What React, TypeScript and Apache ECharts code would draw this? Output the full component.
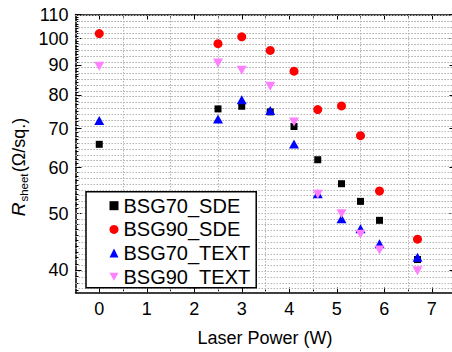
import React, { useEffect, useRef } from "react";
import * as echarts from "echarts";

// Laser power (W)
const powerW = [0, 2.5, 3, 3.6, 4.1, 4.6, 5.1, 5.5, 5.9, 6.7];
// Sheet resistance (Ω/sq.)
const bsg70SDE = [65.8, 75.7, 76.5, 74.8, 70.6, 61.9, 56.3, 52.5, 48.7, 41.7];
const bsg90SDE = [102, 98.0, 100.7, 95.4, 87.9, 75.5, 76.6, 68.1, 54.7, 45.2];
const bsg70TEXT = [72.3, 72.7, 78.5, 75.2, 65.9, 54.1, 49.0, 47.1, 44.4, 42.1];
const bsg90TEXT = [89.6, 90.8, 88.2, 82.8, 71.9, 54.0, 50.0, 46.1, 43.3, 39.9];

const seriesNames = ["BSG70_SDE", "BSG90_SDE", "BSG70_TEXT", "BSG90_TEXT"];
const xTickLabels = [0, 1, 2, 3, 4, 5, 6, 7];
const xHalfTicks = [0.5, 1.5, 2.5, 3.5, 4.5, 5.5, 6.5];
const yTickLabels = [40, 50, 60, 70, 80, 90, 100, 110];
const yMinor: number[] = [];
for (let v = 37; v <= 110; v++) yMinor.push(v);

const X_MIN = -0.5;
const X_MAX = 7.5;
const Y_MIN = 36.6;
const Y_MAX = 110;

const FONT = "'Liberation Sans', Arial, sans-serif";
const lg = (v: number) => Math.log10(v);

export default function App() {
  const ref = useRef<HTMLDivElement>(null);
  useEffect(() => {
    if (!ref.current) return;
    const chart = echarts.init(ref.current, null, { renderer: "svg" });
    const toPts = (ys: number[]) => powerW.map((x, i) => [x, lg(ys[i])]);
    const yMaj = yTickLabels.map(lg);
    const yMin = yMinor.map(lg);
    const lmin = lg(Y_MIN);
    const lmax = lg(Y_MAX);
    const axisLine = { show: true, onZero: false, lineStyle: { color: "#000", width: 1.5 } };
    const noLine = { show: false, onZero: false };
    const hiddenLabel = { show: false };
    const grid = { left: 75.5, top: 14.5, width: 380, height: 278, outerBoundsMode: "none", show: false };
    const xBase = { type: "value", min: X_MIN, max: X_MAX, splitLine: { show: false } };
    const yBase = { type: "value", min: lmin, max: lmax, splitLine: { show: false } };
    const gridStyle = { color: "#b6b6b6", type: [1.5, 1.5], width: 1, opacity: 1 };
    const rot = Math.PI / 2;
    chart.setOption({
      animation: false,
      backgroundColor: "#fff",
      textStyle: { fontFamily: FONT },
      grid,
      xAxis: [
        {
          ...xBase,
          position: "bottom",
          axisLine,
          axisTick: { show: true, inside: true, length: 5, customValues: xTickLabels, lineStyle: { color: "#000", width: 1 } },
          axisLabel: { customValues: xTickLabels, fontSize: 18, color: "#000", margin: 7, fontFamily: FONT },
        },
        {
          ...xBase,
          position: "top",
          axisLine,
          axisTick: { show: true, inside: true, length: 5, customValues: xTickLabels, lineStyle: { color: "#000", width: 1 } },
          axisLabel: hiddenLabel,
        },
        {
          ...xBase,
          position: "bottom",
          axisLine: noLine,
          axisTick: { show: true, inside: true, length: 3, customValues: xHalfTicks, lineStyle: { color: "#000", width: 1 } },
          axisLabel: hiddenLabel,
        },
        {
          ...xBase,
          position: "top",
          axisLine: noLine,
          axisTick: { show: true, inside: true, length: 3, customValues: xHalfTicks, lineStyle: { color: "#000", width: 1 } },
          axisLabel: hiddenLabel,
        },
      ],
      yAxis: [
        {
          ...yBase,
          position: "left",
          axisLine,
          axisTick: { show: true, inside: true, length: 6, customValues: yMaj, lineStyle: { color: "#000", width: 1 } },
          axisLabel: {
            customValues: yMaj,
            formatter: (v: number) => String(Math.round(Math.pow(10, v))),
            fontSize: 18,
            color: "#000",
            margin: 7,
            fontFamily: FONT,
          },
        },
        {
          ...yBase,
          position: "right",
          axisLine,
          axisTick: { show: true, inside: true, length: 6, customValues: yMaj, lineStyle: { color: "#000", width: 1 } },
          axisLabel: hiddenLabel,
        },
        {
          ...yBase,
          position: "left",
          axisLine: noLine,
          axisTick: { show: true, inside: true, length: 3, customValues: yMin, lineStyle: { color: "#000", width: 1 } },
          axisLabel: hiddenLabel,
        },
      ],
      legend: {
        data: seriesNames,
        orient: "vertical",
        left: 86,
        top: 191.7,
        padding: [4, 6, 1, 23.5],
        itemWidth: 9,
        itemHeight: 9,
        itemGap: 3.7,
        itemTextGap: 22.5,
        backgroundColor: "#fff",
        borderColor: "#000",
        borderWidth: 1.5,
        z: 10,
        textStyle: { fontSize: 20, color: "#000", fontFamily: FONT, lineHeight: 18.5, width: 118 },
      },
      graphic: [
        {
          type: "text",
          x: 265,
          y: 338,
          style: {
            text: "Laser Power (W)",
            fontSize: 18,
            fontFamily: FONT,
            fill: "#000",
            align: "center",
            verticalAlign: "middle",
          },
        },
        {
          type: "text",
          x: 18.5,
          y: 209.5,
          rotation: rot,
          style: { text: "R", fontSize: 19, fontStyle: "italic", fontFamily: FONT, fill: "#000", align: "center", verticalAlign: "middle" },
        },
        {
          type: "text",
          x: 24,
          y: 187.5,
          rotation: rot,
          style: { text: "sheet", fontSize: 11.5, fontFamily: FONT, fill: "#000", align: "center", verticalAlign: "middle" },
        },
        {
          type: "text",
          x: 19,
          y: 145,
          rotation: rot,
          style: { text: "(Ω/sq.)", fontSize: 18, fontFamily: FONT, fill: "#000", align: "center", verticalAlign: "middle" },
        },
      ],
      series: [
        {
          name: "grid-lines",
          type: "line",
          data: [],
          xAxisIndex: 0,
          yAxisIndex: 0,
          silent: true,
          z: 1,
          markLine: {
            silent: true,
            animation: false,
            z: 1,
            symbol: ["none", "none"],
            label: { show: false },
            lineStyle: gridStyle,
            emphasis: { disabled: true },
            data: [
              ...yMin.map((v) => ({ yAxis: v })),
              ...xHalfTicks.map((v) => ({ xAxis: v })),
            ],
          },
        },
        { name: seriesNames[0], type: "scatter", z: 6, data: toPts(bsg70SDE), symbol: "rect", symbolSize: 7, itemStyle: { color: "#000000", opacity: 1 } },
        { name: seriesNames[1], type: "scatter", z: 6, data: toPts(bsg90SDE), symbol: "circle", symbolSize: 9, itemStyle: { color: "#ff0000", opacity: 1 } },
        { name: seriesNames[2], type: "scatter", z: 6, data: toPts(bsg70TEXT), symbol: "triangle", symbolSize: [10, 9], itemStyle: { color: "#0000ff", opacity: 1 } },
        {
          name: seriesNames[3],
          type: "scatter",
          z: 6,
          data: toPts(bsg90TEXT),
          symbol: "path://M0,0 L10,0 L5,9 Z",
          symbolSize: [10, 9],
          itemStyle: { color: "#ff80ff", opacity: 1 },
        },
      ],
    });
    return () => chart.dispose();
  }, []);
  return <div ref={ref} style={{ width: 452, height: 352, position: "absolute", left: 0, top: 0 }} />;
}
